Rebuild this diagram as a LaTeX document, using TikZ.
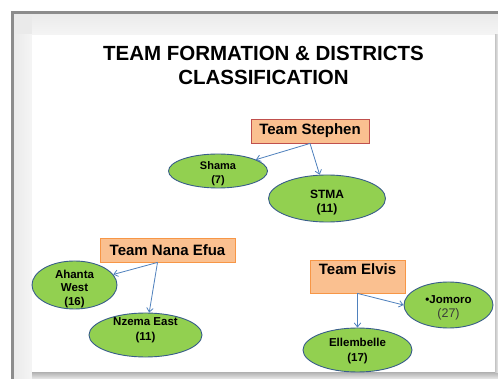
\documentclass[tikz,border=0pt]{standalone}
\usepackage{fontspec}
\setmainfont{Liberation Sans}
\usetikzlibrary{shapes.geometric,arrows.meta}
\definecolor{framegray}{HTML}{8C8C8C}
\definecolor{matgray}{HTML}{EAEAEA}
\definecolor{shadowgray}{HTML}{C4C4C4}
\definecolor{boxfill}{HTML}{FAC090}
\definecolor{redline}{HTML}{C0504D}
\definecolor{orangeline}{HTML}{F79646}
\definecolor{ellfill}{HTML}{92D050}
\definecolor{ellline}{HTML}{385D8A}
\definecolor{arrowblue}{HTML}{4F81BD}
\definecolor{darktext}{HTML}{3A3A3A}
% lines of a district label, lowered so that the last baseline sits #1 below the centre
\newcommand{\distxt}[2]{\raisebox{-#1}[0pt][0pt]{\begin{tabular}[b]{@{}c@{}}#2\end{tabular}}}
\tikzset{
  teambox/.style={draw=orangeline, line width=0.9pt, fill=boxfill, rectangle, inner sep=0pt,
    font=\fontsize{15}{18}\selectfont\bfseries, text=black},
  district/.style={ellipse, draw=ellline, line width=0.9pt, fill=ellfill, inner sep=0pt,
    font=\fontsize{11.5}{14}\selectfont\bfseries, text=black},
  link/.style={draw=arrowblue, line width=0.8pt, -{Straight Barb[length=4pt,width=6.5pt]}}
}
\begin{document}
\begin{tikzpicture}[x=1pt,y=-1pt]
\useasboundingbox (0,0) rectangle (498,379);
\fill[white] (0,0) rectangle (498,379);
% frame
\fill[matgray] (14,14) rectangle (498,379);
\fill[left color=matgray, right color=white!96!black] (14,35) rectangle (32,379);
\fill[top color=matgray, bottom color=white!96!black] (32,14) rectangle (498,35);
\fill[top color=shadowgray!90!black, bottom color=matgray] (32,372) rectangle (498,379);
\fill[left color=shadowgray, right color=matgray] (495,35) rectangle (498,372);
\draw[framegray, line width=3pt] (12.5,379) -- (12.5,12.5) -- (498,12.5);
\fill[white] (32,35) rectangle (495,372);
% title
\node[font=\fontsize{20.5}{24}\selectfont\bfseries, align=center] (title) at (263.5,65)
  {TEAM FORMATION \& DISTRICTS\\CLASSIFICATION};
% team boxes
\node[teambox, draw=redline, minimum width=118pt, minimum height=24pt] (stephen) at (310,131) {Team Stephen};
\node[teambox, minimum width=135pt, minimum height=24pt] (nana) at (167.5,250) {Team Nana Efua};
\node[teambox, minimum width=95pt, minimum height=33pt, text height=10.5pt, text depth=13.5pt] (elvis) at (357.5,276.5) {Team Elvis};
% districts
\node[district, minimum width=99pt, minimum height=34pt, font=\fontsize{11}{13.5}\selectfont\bfseries] (shama) at (218,171) {\distxt{12.5pt}{Shama\\(7)}};
\node[district, minimum width=117pt, minimum height=47pt, font=\fontsize{12}{14}\selectfont\bfseries] (stma) at (327,198.5) {\distxt{14pt}{STMA\\(11)}};
\node[district, minimum width=85pt, minimum height=48pt, font=\fontsize{11.5}{13.5}\selectfont\bfseries] (ahanta) at (74.5,285) {\distxt{20.5pt}{Ahanta\\West\\(16)}};
\node[district, minimum width=113pt, minimum height=44pt, font=\fontsize{11.5}{15}\selectfont\bfseries] (nzema) at (145.5,335) {\distxt{5.7pt}{Nzema East\\(11)}};
\node[district, minimum width=89pt, minimum height=46pt, font=\fontsize{11.5}{14}\selectfont\bfseries] (jomoro) at (448.5,305) {\distxt{12.3pt}{•Jomoro\\{\fontsize{12.5}{14}\selectfont\mdseries\color{darktext}(27)}}};
\node[district, minimum width=109pt, minimum height=44pt, font=\fontsize{11.5}{15}\selectfont\bfseries] (ellem) at (357.5,350) {\distxt{11.7pt}{Ellembelle\\(17)}};
% connectors
\draw[link] (stephen.south) -- (shama);
\draw[link] (stephen.south) -- (stma);
\draw[link] ([xshift=-10pt]nana.south) -- (ahanta);
\draw[link] ([xshift=-10pt]nana.south) -- (nzema);
\draw[link] (elvis.south) -- (ellem.north);
\draw[link] (elvis.south) -- (jomoro.west);
\end{tikzpicture}
\end{document}
